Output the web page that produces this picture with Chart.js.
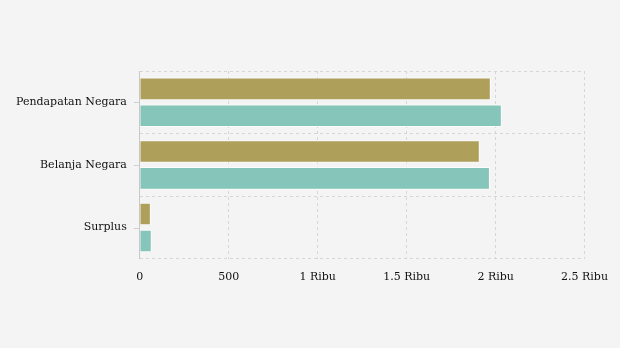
<!DOCTYPE html>
<html>
<head>
<meta charset="utf-8">
<script src="https://cdn.jsdelivr.net/npm/chart.js@4"></script>
<style>
  html, body { margin: 0; padding: 0; background: #f4f4f4; }
  #wrap { width: 620px; height: 348px; }
</style>
</head>
<body>
<div id="wrap"><canvas id="myChart" width="620" height="348"></canvas></div>
<script>
// APBN summary (Rp triliun)
var categories = ["Pendapatan Negara", "Belanja Negara", "Surplus"];
var seriesA = [1973, 1911, 62];
var seriesB = [2035, 1968, 67];
var xTicks = [0, 500, 1000, 1500, 2000, 2500];

function ribu(v) {
  if (v === 0) return "0";
  if (v < 1000) return String(v);
  return (v / 1000).toString() + " Ribu";
}

// small tick marks next to each category label
var labelTicks = {
  id: "labelTicks",
  afterDraw: function (chart) {
    var y = chart.scales.y;
    var c = chart.ctx;
    c.save();
    c.strokeStyle = "#d0d0d0";
    c.lineWidth = 1;
    categories.forEach(function (_, i) {
      var py = Math.round(y.getPixelForValue(i)) + 0.5;
      c.beginPath();
      c.moveTo(y.right - 6, py);
      c.lineTo(y.right - 1, py);
      c.stroke();
    });
    c.restore();
  },
};

var ctx = document.getElementById("myChart").getContext("2d");
var myChart = new Chart(ctx, {
  type: "bar",
  data: {
    labels: categories,
    datasets: [
      {
        label: "A",
        data: seriesA,
        backgroundColor: "#ae9f5a",
        borderColor: "rgba(255,255,255,0.7)",
        borderWidth: 1,
      },
      {
        label: "B",
        data: seriesB,
        backgroundColor: "#86c5b9",
        borderColor: "rgba(255,255,255,0.7)",
        borderWidth: 1,
      },
    ],
  },
  plugins: [labelTicks],
  options: {
    indexAxis: "y",
    responsive: false,
    animation: false,
    datasets: { bar: { categoryPercentage: 0.86, barPercentage: 0.84 } },
    layout: { padding: { top: 71, left: 3, right: 17, bottom: 52 } },
    plugins: { legend: { display: false }, tooltip: { enabled: false } },
    scales: {
      x: {
        min: 0,
        max: 2500,
        afterBuildTicks: function (axis) {
          axis.ticks = xTicks.map(function (v) { return { value: v }; });
        },
        ticks: {
          color: "#111",
          font: { family: "DejaVu Serif", size: 11 },
          padding: 12,
          callback: function (v) { return ribu(v); },
        },
        grid: { color: "#d6d6d6", drawTicks: false },
        border: { display: false, dash: [3, 3] },
      },
      y: {
        ticks: {
          color: "#111",
          font: { family: "DejaVu Serif", size: 11 },
          padding: 13,
        },
        grid: { color: "#d6d6d6", drawTicks: false },
        border: { color: "#c8c8c8", dash: [3, 3] },
      },
    },
  },
});
</script>
</body>
</html>
